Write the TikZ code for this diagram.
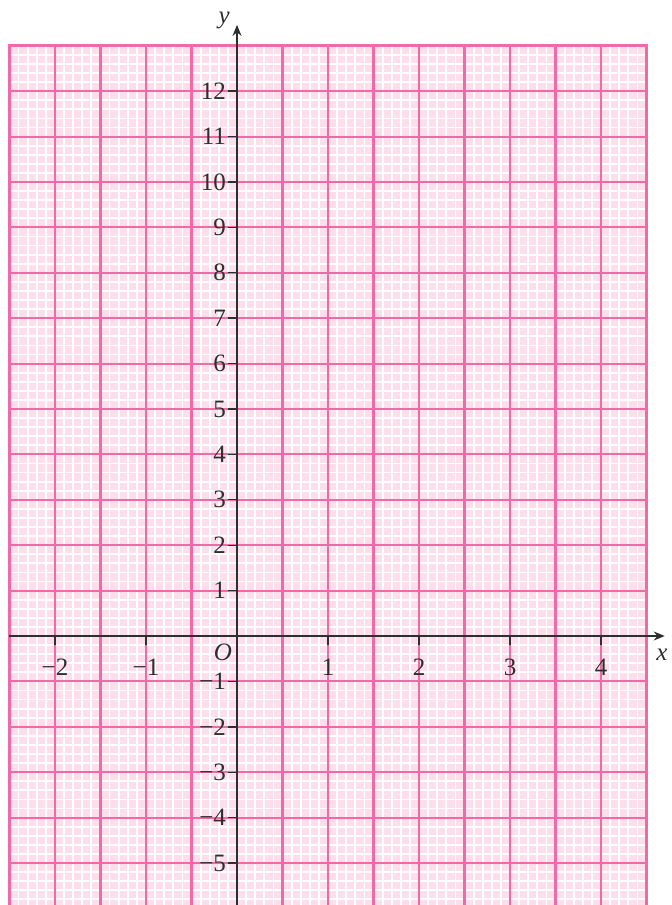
\documentclass[tikz,border=0pt]{standalone}
\usepackage{fontspec}
\setmainfont{Liberation Serif}
\usetikzlibrary{arrows.meta}
\definecolor{paper}{HTML}{FDDFEB}
\definecolor{major}{HTML}{F06AA8}
\definecolor{axis}{HTML}{2E2E2E}
\tikzset{
  minorgrid/.style={white, line width=1.8pt},
  majorgrid/.style={major, line width=2.1pt},
  axisline/.style={axis, line width=1.4pt, -{Stealth[length=11pt,width=9pt]}},
  tickmark/.style={axis, line width=1.4pt},
  lbl/.style={inner sep=0pt, font=\fontsize{25}{30}\selectfont, text=axis},
  ilbl/.style={inner sep=0pt, font=\fontsize{25}{30}\selectfont\itshape, text=axis},
}
\begin{document}
\begin{tikzpicture}[x=91pt,y=45.4pt]
\useasboundingbox (-2.6044,-5.925) rectangle (4.7692,14.0088);
\fill[paper] (-2.5,-6) rectangle (4.5,13);
% minor grid (white), skipping major positions
\foreach \i in {0,...,70}{
  \pgfmathtruncatemacro{\r}{mod(\i,5)}
  \ifnum\r>0
    \draw[minorgrid] ({-2.5+\i/10},-6) -- ({-2.5+\i/10},13);
  \fi
}
\foreach \j in {0,...,95}{
  \pgfmathtruncatemacro{\r}{mod(\j,5)}
  \ifnum\r>0
    \draw[minorgrid] (-2.5,{-6+\j/5}) -- (4.5,{-6+\j/5});
  \fi
}
% major grid (pink)
\foreach \i in {0,...,14}{
  \draw[majorgrid] ({-2.5+\i/2},-6) -- ({-2.5+\i/2},13);
}
\foreach \j in {0,...,19}{
  \draw[majorgrid] (-2.5,{-6+\j}) -- (4.5,{-6+\j});
}
\draw[major, line width=2.6pt] (-2.5,-6) rectangle (4.5,13);
% axes
\coordinate (xs) at (-2.5,0);
\coordinate (xe) at (4.70,0);
\coordinate (ys) at (0,-6);
\coordinate (ye) at (0,13.46);
\draw[axisline] (xs) -- (xe);
\draw[axisline] (ys) -- (ye);
\node[ilbl] (xl) at (4.67,-0.42) {x};
\node[ilbl] (yl) at (-0.14,13.56) {y};
\node[ilbl] (o) at (-0.155,-0.35) {O};
% x ticks
\foreach \v/\t in {-2/−2,-1/−1,1/1,2/2,3/3,4/4}{
  \coordinate (xt\v) at (\v,0);
  \coordinate (xb\v) at (\v,-0.19);
  \draw[tickmark] (xt\v) -- (xb\v);
  \node[lbl] (xn\v) at (\v,-0.68) {\t};
}
% y ticks
\foreach \v/\t in {-5/−5,-4/−4,-3/−3,-2/−2,-1/−1,1/1,2/2,3/3,4/4,5/5,6/6,7/7,8/8,9/9,10/10,11/11,12/12}{
  \coordinate (yt\v) at (0,\v);
  \coordinate (yb\v) at (-0.095,\v);
  \draw[tickmark] (yt\v) -- (yb\v);
  \node[lbl, anchor=east] (yn\v) at (-0.12,\v) {\t};
}
\end{tikzpicture}
\end{document}
